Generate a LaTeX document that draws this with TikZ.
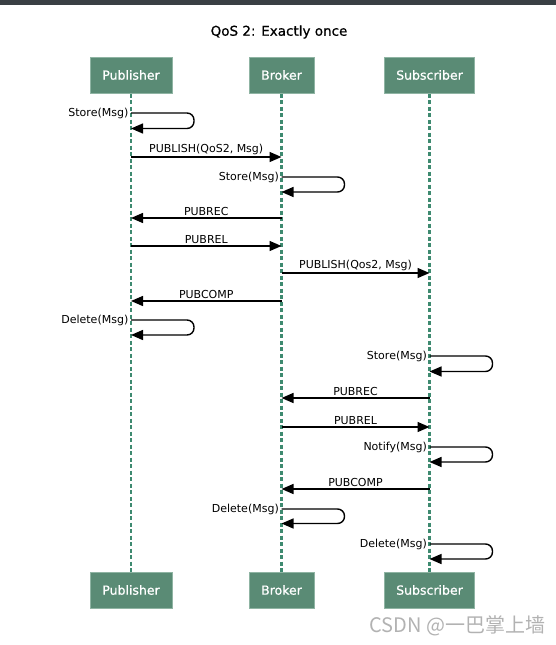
\documentclass[tikz,border=0pt]{standalone}
\usepackage{fontspec}
\setmainfont{DejaVu Sans}
\newfontfamily\semifont[FakeBold=0.7]{DejaVu Sans}
\newfontfamily\cjkfont{Noto Sans CJK SC}
\usetikzlibrary{arrows.meta}
\definecolor{boxgreen}{HTML}{5A8B75}
\definecolor{boxedge}{HTML}{8FB4A3}
\definecolor{lifegreen}{HTML}{3E8A70}
\definecolor{topbar}{HTML}{3A3F44}
\tikzset{
  actor/.style={fill=boxgreen, draw=boxedge, line width=1pt, text=white,
    font=\semifont\fontsize{12.5}{14}\selectfont, minimum height=36pt, inner xsep=0pt},
  lifeline/.style={lifegreen, line width=2.5pt, dash pattern=on 4pt off 2.5pt},
  msg/.style={line width=1.4pt, -{Triangle[length=12pt,width=10pt]}},
  lbl/.style={font=\fontsize{11}{13}\selectfont, inner sep=2pt},
}

\begin{document}
\begin{tikzpicture}[x=1pt,y=-1pt]
\useasboundingbox (0,0) rectangle (556,645);
\fill[topbar] (0,0) rectangle (556,5);
\node[font=\semifont\fontsize{13.5}{15}\selectfont] (title) at (279,32) {QoS 2: Exactly once};

% participants
\node[actor, minimum width=82pt] (pubtop) at (131,75) {Publisher};
\node[actor, minimum width=65pt] (brotop) at (281.5,75) {Broker};
\node[actor, minimum width=90pt] (subtop) at (429.5,75) {Subscriber};
\node[actor, minimum width=82pt] (pubbot) at (131,590) {Publisher};
\node[actor, minimum width=65pt] (brobot) at (281.5,590) {Broker};
\node[actor, minimum width=90pt] (subbot) at (429.5,590) {Subscriber};

\draw[lifeline] (pubtop) -- (pubbot);
\draw[lifeline] (brotop) -- (brobot);
\draw[lifeline] (subtop) -- (subbot);

% message ends
\coordinate (p1) at (131,113);   \coordinate (p1r) at (131,128.5);
\coordinate (p2) at (131,157);   \coordinate (b2) at (281.5,157);
\coordinate (b3) at (281.5,177); \coordinate (b3r) at (281.5,192);
\coordinate (p4) at (131,218);   \coordinate (b4) at (281.5,218);
\coordinate (p5) at (131,246);   \coordinate (b5) at (281.5,246);
\coordinate (b6) at (281.5,273); \coordinate (s6) at (429.5,273);
\coordinate (p7) at (131,301);   \coordinate (b7) at (281.5,301);
\coordinate (p8) at (131,320);   \coordinate (p8r) at (131,335);
\coordinate (s9) at (429.5,356); \coordinate (s9r) at (429.5,371.5);
\coordinate (b10) at (281.5,398); \coordinate (s10) at (429.5,398);
\coordinate (b11) at (281.5,427); \coordinate (s11) at (429.5,427);
\coordinate (s12) at (429.5,447); \coordinate (s12r) at (429.5,462);
\coordinate (b13) at (281.5,489); \coordinate (s13) at (429.5,489);
\coordinate (b14) at (281.5,509); \coordinate (b14r) at (281.5,523.5);
\coordinate (s15) at (429.5,544); \coordinate (s15r) at (429.5,559);

% messages
\draw[msg, rounded corners=7pt] (p1) node[lbl, left] (store1) {Store(Msg)}
  -- ++(63,0) -- ++(0,15.5) -- (p1r);
\draw[msg] (p2) -- node[lbl, above] (publish1) {PUBLISH(QoS2, Msg)} (b2);
\draw[msg, rounded corners=7pt] (b3) node[lbl, left] (store2) {Store(Msg)}
  -- ++(63,0) -- ++(0,15) -- (b3r);
\draw[msg] (b4) -- node[lbl, above] (pubrec1) {PUBREC} (p4);
\draw[msg] (p5) -- node[lbl, above] (pubrel1) {PUBREL} (b5);
\draw[msg] (b6) -- node[lbl, above] (publish2) {PUBLISH(Qos2, Msg)} (s6);
\draw[msg] (b7) -- node[lbl, above] (pubcomp1) {PUBCOMP} (p7);
\draw[msg, rounded corners=7pt] (p8) node[lbl, left] (delete1) {Delete(Msg)}
  -- ++(63,0) -- ++(0,15) -- (p8r);
\draw[msg, rounded corners=7pt] (s9) node[lbl, left] (store3) {Store(Msg)}
  -- ++(63,0) -- ++(0,15.5) -- (s9r);
\draw[msg] (s10) -- node[lbl, above] (pubrec2) {PUBREC} (b10);
\draw[msg] (b11) -- node[lbl, above] (pubrel2) {PUBREL} (s11);
\draw[msg, rounded corners=7pt] (s12) node[lbl, left] (notify) {Notify(Msg)}
  -- ++(63,0) -- ++(0,15) -- (s12r);
\draw[msg] (s13) -- node[lbl, above] (pubcomp2) {PUBCOMP} (b13);
\draw[msg, rounded corners=7pt] (b14) node[lbl, left] (delete2) {Delete(Msg)}
  -- ++(63,0) -- ++(0,14.5) -- (b14r);
\draw[msg, rounded corners=7pt] (s15) node[lbl, left] (delete3) {Delete(Msg)}
  -- ++(63,0) -- ++(0,15) -- (s15r);

\node[text=black!30, font=\cjkfont\fontsize{20}{22}\selectfont, anchor=west]
  (mark) at (366,626) {CSDN @一巴掌上墙};
\end{tikzpicture}
\end{document}
